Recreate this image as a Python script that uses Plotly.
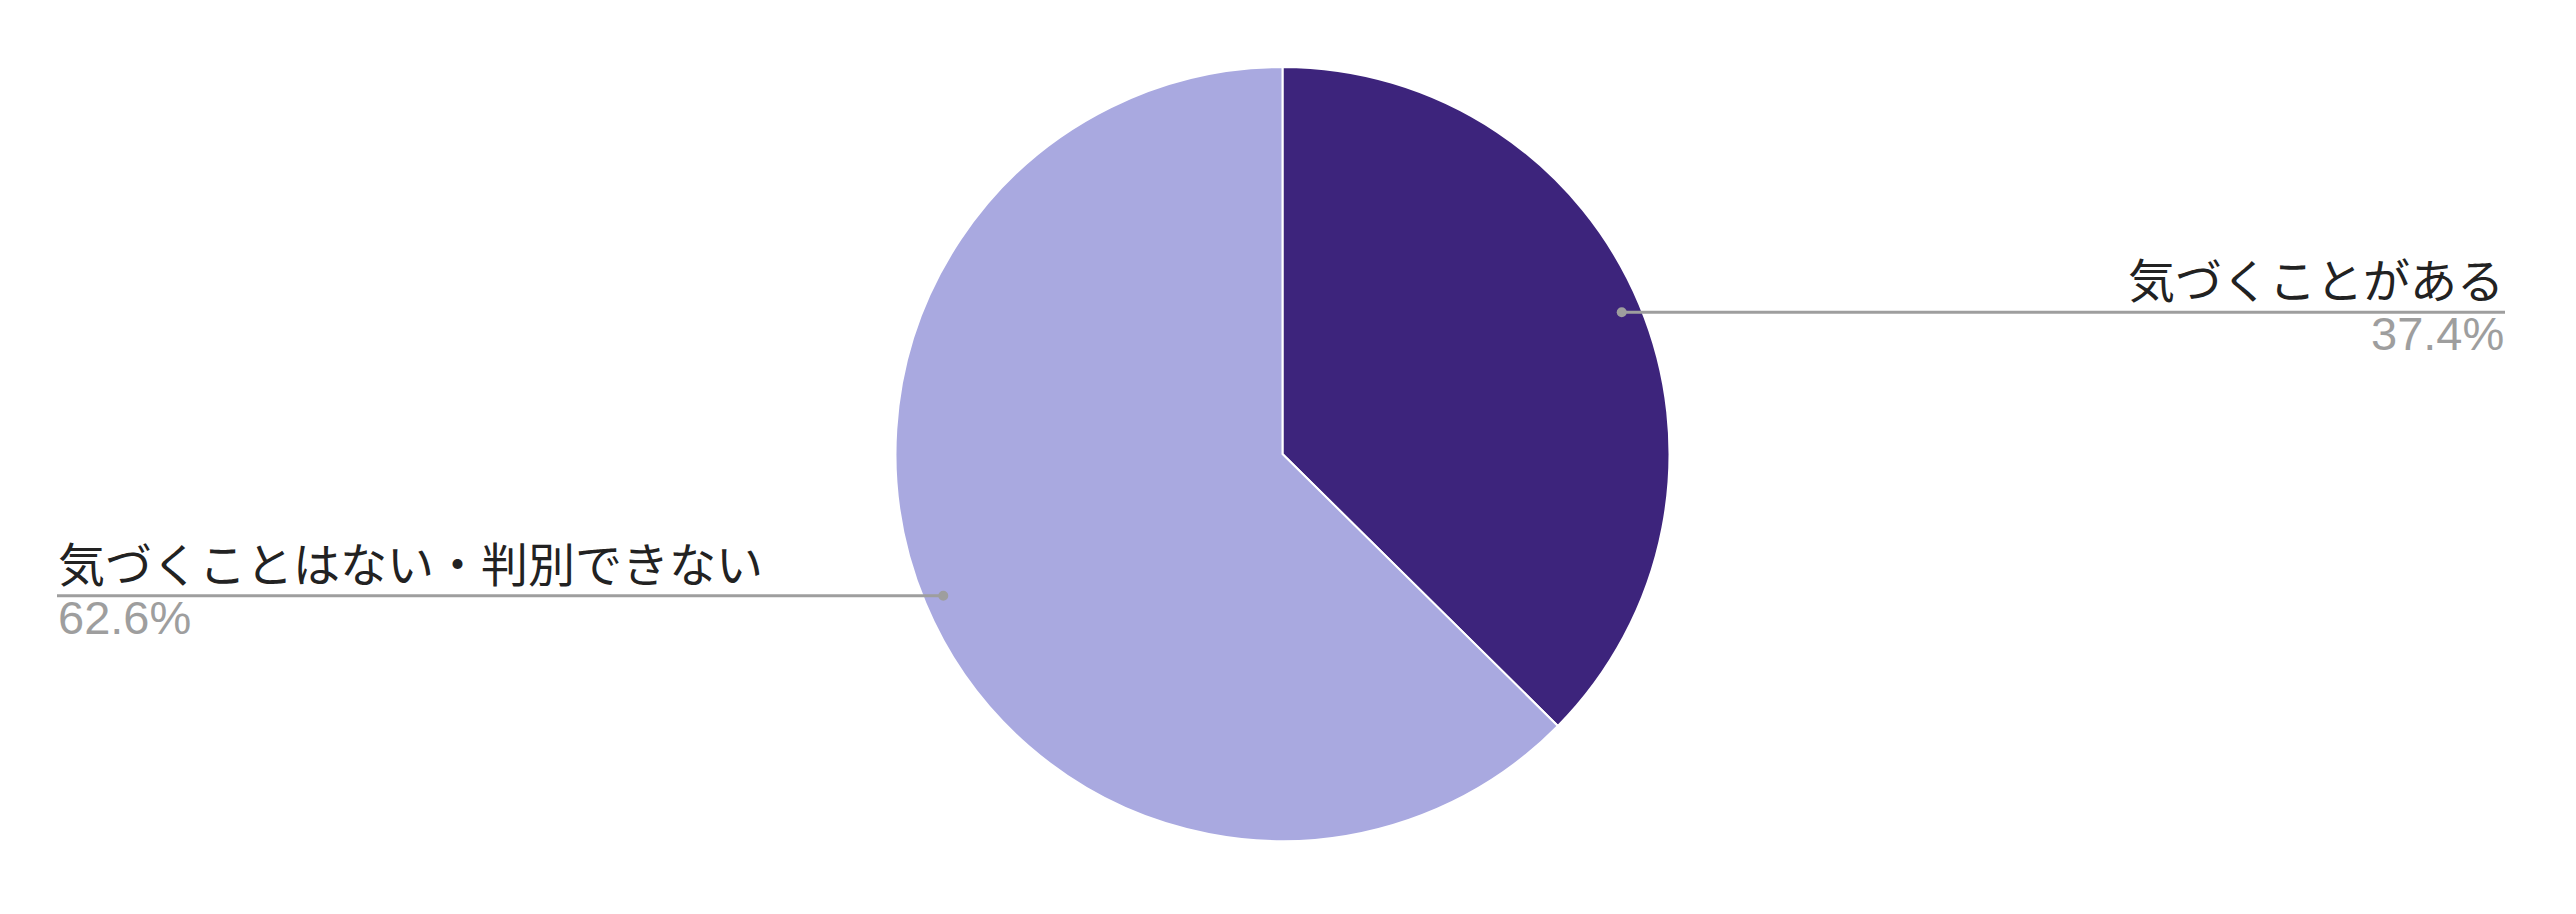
import math
import plotly.graph_objects as go

labels = ["気づくことがある", "気づくことはない・判別できない"]
values = [37.4, 62.6]
colors = ["#3d247c", "#a9a9e0"]

# page body has an 8px default margin; lay out in page pixels then subtract it
OFF = 8
W, H = 2576 - OFF, 914 - OFF
cx, cy, r = 1282.5 - OFF, 454 - OFF, 387  # pie centre / radius in pixels
label_x_right = 2505 - OFF
label_x_left = 57 - OFF

dom_x = [(cx - r) / W, (cx + r) / W]
dom_y = [1 - (cy + r) / H, 1 - (cy - r) / H]

fig = go.Figure(go.Pie(
    labels=labels, values=values, sort=False, direction="clockwise", rotation=0,
    marker=dict(colors=colors, line=dict(color="white", width=2)),
    textinfo="none", hoverinfo="label+percent", showlegend=False,
    domain=dict(x=dom_x, y=dom_y),
))

total = sum(values)
cum = 0.0
shapes, annotations = [], []
line_col = "#9e9e9e"
xp = lambda p: p / W
yp = lambda p: 1 - p / H
for lab, v in zip(labels, values):
    frac = v / total
    mid = (cum + frac / 2) * 2 * math.pi
    cum += frac
    dx, dy = math.sin(mid), math.cos(mid)
    px = cx + 0.95 * r * dx
    py = cy - 0.95 * r * dy
    right = dx >= 0
    xend = label_x_right if right else label_x_left
    shapes.append(dict(type="line", xref="paper", yref="paper",
                       x0=xp(px), x1=xp(xend), y0=yp(py), y1=yp(py),
                       line=dict(color=line_col, width=3)))
    shapes.append(dict(type="circle", xref="paper", yref="paper",
                       x0=xp(px - 5), x1=xp(px + 5), y0=yp(py + 5), y1=yp(py - 5),
                       fillcolor=line_col, line=dict(width=0)))
    anchor = "right" if right else "left"
    annotations.append(dict(xref="paper", yref="paper", x=xp(xend), y=yp(py),
                            xanchor=anchor, yanchor="bottom", showarrow=False,
                            text=lab, borderpad=0, yshift=-1,
                            font=dict(family="Noto Sans CJK JP", size=47, color="#222222")))
    annotations.append(dict(xref="paper", yref="paper", x=xp(xend), y=yp(py),
                            xanchor=anchor, yanchor="top", showarrow=False,
                            text=f"{v / total * 100:.1f}%", borderpad=0, yshift=6,
                            font=dict(family="Arial, Liberation Sans", size=47, color="#9e9e9e")))

fig.update_layout(width=W, height=H, margin=dict(l=0, r=0, t=0, b=0),
                  paper_bgcolor="white", plot_bgcolor="white",
                  shapes=shapes, annotations=annotations)
fig.write_html("out.html")
